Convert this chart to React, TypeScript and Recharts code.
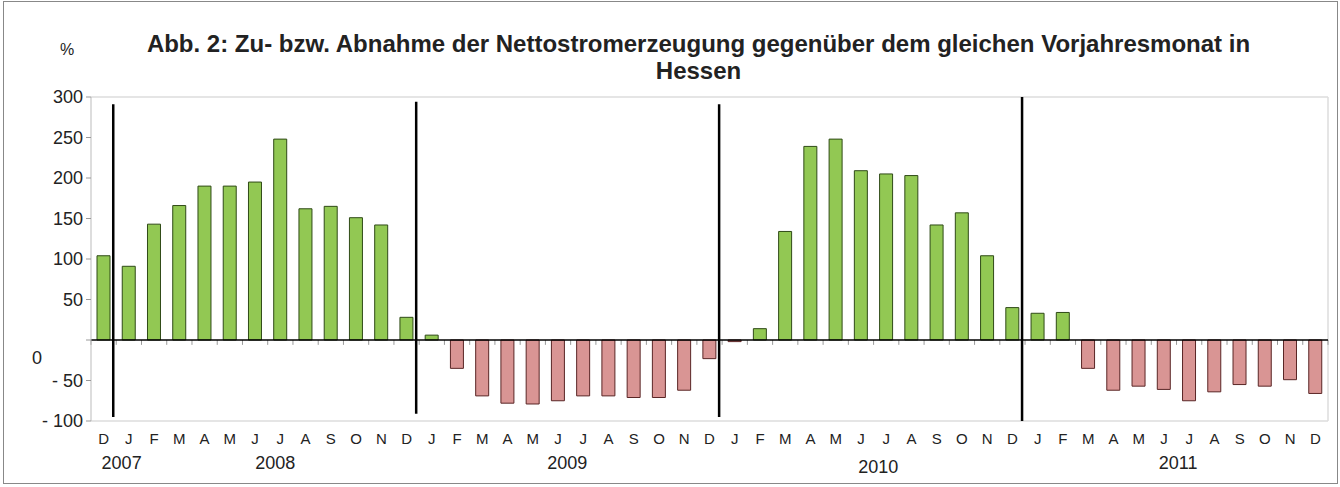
import React from "react";
import { ComposedChart, Bar, Cell, XAxis, YAxis, ReferenceLine } from "recharts";

const months = [
  "D",
  "J", "F", "M", "A", "M", "J", "J", "A", "S", "O", "N", "D",
  "J", "F", "M", "A", "M", "J", "J", "A", "S", "O", "N", "D",
  "J", "F", "M", "A", "M", "J", "J", "A", "S", "O", "N", "D",
  "J", "F", "M", "A", "M", "J", "J", "A", "S", "O", "N", "D",
];

const changes = [
  104,
  91, 143, 166, 190, 190, 195, 248, 162, 165, 151, 142, 28,
  6, -35, -69, -78, -79, -75, -69, -69, -71, -71, -62, -23,
  -2, 14, 134, 239, 248, 209, 205, 203, 142, 157, 104, 40,
  33, 34, -35, -62, -57, -61, -75, -64, -55, -57, -49, -66,
];

const years = ["2007", "2008", "2009", "2010", "2011"];
const yearAtIndex = [0, 7, 19, 31, 43];
const yearShift = [[18, 0], [-5, 0], [-16, 0], [-8, 4], [-11, 0]];

const yTicks = [-100, -50, 0, 50, 100, 150, 200, 250, 300];

// year dividers: first category of the new year and vertical extent
const dividerAt = [1, 13, 25, 37];
const dividerTop = [291, 294, 291, 300];
const dividerBottom = [-95, -91, -95, -100];

const data = months.map((m, i) => ({ key: String(i), month: m, value: changes[i] }));

const FONT = "'Liberation Sans', Arial, sans-serif";

const MonthTick = (props: any) => {
  const { x, y, index } = props;
  const yi = yearAtIndex.indexOf(index);
  return (
    <g>
      <text x={x} y={y + 15} textAnchor="middle" fontSize={15} fill="#222" fontFamily={FONT}>
        {months[index]}
      </text>
      {yi >= 0 && (
        <text
          x={x + yearShift[yi][0]}
          y={y + 40 + yearShift[yi][1]}
          textAnchor="middle"
          fontSize={18}
          fill="#222"
          fontFamily={FONT}
        >
          {years[yi]}
        </text>
      )}
    </g>
  );
};

const ValueTick = (props: any) => {
  const { x, y, payload } = props;
  const v = payload.value;
  if (v === 0) {
    return (
      <text x={37} y={y + 24} textAnchor="middle" fontSize={18} fill="#222" fontFamily={FONT}>
        0
      </text>
    );
  }
  const label = v < 0 ? `- ${Math.abs(v)}` : String(v);
  return (
    <text x={x - 1} y={y + 6} textAnchor="end" fontSize={18} fill="#222" fontFamily={FONT}>
      {label}
    </text>
  );
};

const DividerShape = (props: any) => {
  const { x1, y1, x2, y2 } = props;
  return <line x1={x1 - 3} y1={y1} x2={x2 - 3} y2={y2} stroke="#000" strokeWidth={2.5} />;
};

export default function App() {
  return (
    <div style={{ position: "absolute", left: 0, top: 0, width: 1340, height: 487, background: "#fff" }}>
      <div
        style={{
          position: "absolute",
          left: 3,
          top: 1,
          width: 1333,
          height: 481,
          border: "1px solid #888",
        }}
      />
      <div
        style={{
          position: "absolute",
          left: 0,
          top: 30,
          width: 1397,
          textAlign: "center",
          fontFamily: FONT,
          fontWeight: "bold",
          fontSize: 24,
          lineHeight: "27px",
          color: "#222",
        }}
      >
        Abb. 2: Zu- bzw. Abnahme der Nettostromerzeugung gegenüber dem gleichen Vorjahresmonat in
        <br />
        Hessen
      </div>
      <div style={{ position: "absolute", left: 60, top: 41, fontFamily: FONT, fontSize: 16, color: "#222" }}>%</div>
      <div style={{ position: "absolute", left: 0, top: 0 }}>
        <ComposedChart width={1340} height={487} data={data} margin={{ top: 97, right: 12, bottom: 16, left: 0 }}>
          <XAxis
            dataKey="key"
            interval={0}
            axisLine={false}
            tickLine={false}
            height={50}
            tick={<MonthTick />}
          />
          <YAxis
            domain={[-100, 300]}
            ticks={yTicks}
            interval={0}
            width={91}
            axisLine={{ stroke: "#bbb" }}
            tickLine={{ stroke: "#999" }}
            tickSize={5}
            tick={<ValueTick />}
          />
          <ReferenceLine y={300} stroke="#ddd" strokeWidth={1.5} />
          <ReferenceLine y={-100} stroke="#ddd" strokeWidth={1.5} />
          <ReferenceLine x={data[data.length - 1].key} position="end" stroke="#ddd" strokeWidth={1.5} />
          {data.map((d) => (
            <ReferenceLine
              key={`t${d.key}`}
              segment={[{ x: d.key, y: 0 }, { x: d.key, y: -6 }]}
              position="start"
              stroke="#999"
              strokeWidth={1}
            />
          ))}
          <ReferenceLine
            segment={[{ x: data[data.length - 1].key, y: 0 }, { x: data[data.length - 1].key, y: -6 }]}
            position="end"
            stroke="#999"
            strokeWidth={1}
          />
          <Bar dataKey="value" barSize={13} isAnimationActive={false}>
            {data.map((d) => (
              <Cell
                key={d.key}
                fill={d.value >= 0 ? "#92c853" : "#d99594"}
                stroke={d.value >= 0 ? "#2f4a17" : "#5a2626"}
                strokeWidth={1}
              />
            ))}
          </Bar>
          <ReferenceLine y={0} stroke="#000" strokeWidth={1.5} />
          {dividerAt.map((d, i) => (
            <ReferenceLine
              key={`d${d}`}
              segment={[{ x: String(d), y: dividerTop[i] }, { x: String(d), y: dividerBottom[i] }]}
              position="start"
              shape={<DividerShape />}
            />
          ))}
        </ComposedChart>
      </div>
    </div>
  );
}
